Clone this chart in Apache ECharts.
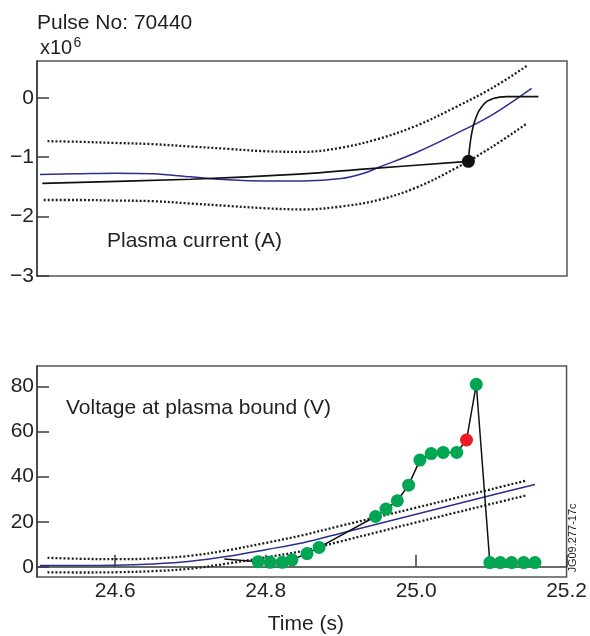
<!DOCTYPE html>
<html>
<head>
<meta charset="utf-8">
<title>Pulse No: 70440</title>
<script src="https://cdn.jsdelivr.net/npm/echarts@6/dist/echarts.min.js"></script>
<style>
  html, body { margin: 0; padding: 0; background: #fff; }
  #chart { width: 590px; height: 636px; }
</style>
</head>
<body>
<div id="chart"></div>
<script>
// ---- Plasma current, units of 10^6 A ----
// upper and lower bounds of the expected band (dotted)
const ipUpperTime = [24.51, 24.55, 24.60, 24.65, 24.70, 24.75, 24.80, 24.85, 24.90, 24.95, 25.00, 25.05, 25.10, 25.147];
const ipUpper     = [-0.73, -0.74, -0.76, -0.78, -0.82, -0.86, -0.90, -0.91, -0.84, -0.69, -0.47, -0.17, 0.16, 0.54];
const ipLowerTime = [24.505, 24.55, 24.60, 24.65, 24.70, 24.75, 24.80, 24.85, 24.90, 24.95, 25.00, 25.05, 25.10, 25.147];
const ipLower     = [-1.72, -1.72, -1.73, -1.74, -1.78, -1.82, -1.86, -1.88, -1.83, -1.72, -1.51, -1.20, -0.83, -0.43];
// reference trace (blue)
const ipRefTime = [24.50, 24.55, 24.60, 24.65, 24.70, 24.75, 24.80, 24.85, 24.90, 24.93, 24.95, 25.00, 25.05, 25.10, 25.153];
const ipRef     = [-1.29, -1.28, -1.27, -1.28, -1.33, -1.38, -1.40, -1.40, -1.36, -1.27, -1.17, -0.92, -0.62, -0.29, 0.16];
// measured trace (black); the alarm point is at ipAlarmIndex
const ipTime = [24.503, 24.70, 24.85, 24.93, 25.069, 25.0702, 25.0734, 25.0778, 25.0867, 25.1021, 25.120, 25.162];
const ipMeas = [-1.44, -1.37, -1.28, -1.20, -1.07, -0.89, -0.60, -0.38, -0.15, -0.01, 0.02, 0.02];
const ipAlarmIndex = 4;

// ---- Voltage at plasma boundary, V ----
const vUpperTime = [24.51, 24.55, 24.60, 24.65, 24.70, 24.75, 24.80, 24.85, 24.90, 24.95, 25.00, 25.05, 25.10, 25.147];
const vUpper     = [4.0, 3.6, 3.4, 3.7, 4.9, 7.4, 10.6, 14.1, 18.2, 22.2, 26.2, 30.3, 34.4, 38.3];
const vLowerTime = [24.51, 24.55, 24.60, 24.65, 24.70, 24.75, 24.80, 24.85, 24.90, 24.95, 25.00, 25.05, 25.10, 25.147];
const vLower     = [-2.4, -2.5, -2.4, -1.9, -0.8, 1.5, 4.2, 7.1, 11.3, 15.5, 19.7, 23.8, 27.9, 31.7];
const vRefTime = [24.50, 24.55, 24.60, 24.65, 24.70, 24.75, 24.80, 24.85, 24.90, 24.95, 25.00, 25.05, 25.10, 25.158];
const vRef     = [0.6, 0.6, 0.7, 1.3, 2.5, 4.7, 7.6, 10.7, 14.9, 19.1, 23.3, 27.5, 31.7, 36.5];
// measured samples; the first sample has no marker, the alarm sample is vAlarmIndex
const vTime = [24.745, 24.790, 24.806, 24.822, 24.835, 24.855, 24.871, 24.946, 24.960, 24.975, 24.990, 25.005, 25.020, 25.036, 25.054, 25.067, 25.080, 25.098, 25.112, 25.127, 25.143, 25.158];
const vMeas = [3.5, 2.3, 2.0, 2.0, 3.1, 5.9, 8.6, 22.3, 25.6, 29.3, 36.2, 47.3, 50.2, 50.7, 50.7, 56.2, 80.9, 1.9, 1.9, 1.9, 1.9, 1.9];
const vFirstMarker = 1;
const vAlarmIndex = 15;

// ---- axes ----
const timeMin = 24.496, timeMax = 25.2;
const timeTicks = [24.6, 24.8, 25.0, 25.2];
const ipMin = -3, ipMax = 0.62, ipStep = 1;
const vMin = -4.5, vMax = 89;
const vTicks = [0, 20, 40, 60, 80];

const FONT = '"Liberation Sans", Arial, Helvetica, sans-serif';
const INK = '#231f20';
const AXIS = '#3a3a3a';
const DOT = '#1e1e1e';
const BLUE = '#2b2f8f';
const GREEN = '#00a651';
const RED = '#ed1c24';

const pairs = (xs, ys) => xs.map((x, i) => [x, ys[i]]);
const signed = v => (v < 0 ? '\u2212' + Math.abs(v) : String(v));

const dottedStyle = { color: DOT, width: 2.3, type: [2, 2] };

function curve(name, xs, ys, grid, style) {
  return {
    name, type: 'line', xAxisIndex: grid, yAxisIndex: grid,
    data: pairs(xs, ys), showSymbol: false, symbol: 'none',
    smooth: 0.35,
    lineStyle: style, silent: true, z: 2
  };
}

const chart = echarts.init(document.getElementById('chart'), null, { renderer: 'canvas' });

const ipPairs = pairs(ipTime, ipMeas);
const vPairs = pairs(vTime, vMeas);
const greenDots = vPairs.filter((p, i) => i >= vFirstMarker && i !== vAlarmIndex);

const labelFont = { fontSize: 21, color: INK, fontFamily: FONT };

chart.setOption({
  animation: false,
  backgroundColor: '#fff',
  grid: [
    { left: 37, right: 23, top: 61, height: 215, show: true, borderColor: '#555', borderWidth: 1.5 },
    { left: 37, right: 23, top: 366, height: 215, show: true, borderColor: '#555', borderWidth: 1.5 }
  ],
  xAxis: [
    {
      gridIndex: 0, type: 'value', min: timeMin, max: timeMax,
      axisLine: { show: false }, axisTick: { show: false }, axisLabel: { show: false }, splitLine: { show: false }
    },
    {
      gridIndex: 1, type: 'value', min: timeMin, max: timeMax,
      axisLine: { show: true, lineStyle: { color: AXIS, width: 1.5 } },
      axisTick: { show: true, inside: true, length: 12, customValues: timeTicks, lineStyle: { color: AXIS, width: 1.5 } },
      axisLabel: Object.assign({ customValues: timeTicks, margin: 4, formatter: v => v.toFixed(1) }, labelFont),
      splitLine: { show: false },
      name: 'Time (s)', nameLocation: 'middle', nameGap: 37,
      nameTextStyle: { fontSize: 21, color: INK, fontFamily: FONT, padding: [0, 0, 0, 8] }
    }
  ],
  yAxis: [
    {
      gridIndex: 0, type: 'value', min: ipMin, max: ipMax, interval: ipStep,
      axisLine: { show: true, lineStyle: { color: AXIS, width: 1.5 } },
      axisTick: { show: true, inside: true, length: 12, lineStyle: { color: AXIS, width: 1.5 } },
      axisLabel: Object.assign({ margin: 3, formatter: signed, showMaxLabel: false }, labelFont),
      splitLine: { show: false }
    },
    {
      gridIndex: 1, type: 'value', min: vMin, max: vMax,
      axisLine: { show: true, lineStyle: { color: AXIS, width: 1.5 } },
      axisTick: { show: true, inside: true, length: 12, customValues: vTicks, lineStyle: { color: AXIS, width: 1.5 } },
      axisLabel: Object.assign({ customValues: vTicks, margin: 3 }, labelFont),
      splitLine: { show: false }
    }
  ],
  series: [
    // plasma current
    curve('Ip upper', ipUpperTime, ipUpper, 0, dottedStyle),
    curve('Ip lower', ipLowerTime, ipLower, 0, dottedStyle),
    curve('Ip reference', ipRefTime, ipRef, 0, { color: BLUE, width: 1.5 }),
    {
      name: 'Ip measured', type: 'line', xAxisIndex: 0, yAxisIndex: 0,
      data: ipPairs.slice(0, ipAlarmIndex + 1), showSymbol: false, symbol: 'none',
      smooth: 0.3, lineStyle: { color: '#111', width: 1.6 }, z: 3
    },
    {
      name: 'Ip measured (after alarm)', type: 'line', xAxisIndex: 0, yAxisIndex: 0,
      data: ipPairs.slice(ipAlarmIndex), showSymbol: false, symbol: 'none',
      smooth: 0.45, lineStyle: { color: '#111', width: 1.6 }, z: 3
    },
    {
      name: 'Ip alarm', type: 'scatter', xAxisIndex: 0, yAxisIndex: 0,
      data: [ipPairs[ipAlarmIndex]], symbolSize: 13, itemStyle: { color: '#111', opacity: 1 }, z: 5
    },
    // boundary voltage
    curve('V upper', vUpperTime, vUpper, 1, dottedStyle),
    curve('V lower', vLowerTime, vLower, 1, dottedStyle),
    curve('V reference', vRefTime, vRef, 1, { color: BLUE, width: 1.5 }),
    {
      name: 'V measured', type: 'line', xAxisIndex: 1, yAxisIndex: 1,
      data: vPairs, showSymbol: false, symbol: 'none',
      lineStyle: { color: '#111', width: 1.5 }, z: 3
    },
    {
      name: 'V samples', type: 'scatter', xAxisIndex: 1, yAxisIndex: 1,
      data: greenDots, symbolSize: 13, itemStyle: { color: GREEN, opacity: 1 }, z: 5
    },
    {
      name: 'V alarm', type: 'scatter', xAxisIndex: 1, yAxisIndex: 1,
      data: [vPairs[vAlarmIndex]], symbolSize: 13, itemStyle: { color: RED, opacity: 1 }, z: 6
    }
  ],
  graphic: [
    { type: 'text', x: 37, y: 23.5, style: { text: 'Pulse No: 70440', font: '21px ' + FONT, fill: INK, textAlign: 'left', textVerticalAlign: 'middle' } },
    { type: 'text', x: 40, y: 48.5, style: { text: 'x10', font: '20px ' + FONT, fill: INK, textAlign: 'left', textVerticalAlign: 'middle' } },
    { type: 'text', x: 73.5, y: 43, style: { text: '6', font: '14px ' + FONT, fill: INK, textAlign: 'left', textVerticalAlign: 'middle' } },
    { type: 'text', x: 107, y: 241, style: { text: 'Plasma current (A)', font: '21px ' + FONT, fill: INK, textAlign: 'left', textVerticalAlign: 'middle' } },
    { type: 'text', x: 66, y: 408, style: { text: 'Voltage at plasma bound (V)', font: '21px ' + FONT, fill: INK, textAlign: 'left', textVerticalAlign: 'middle' } },
    { type: 'text', x: 573, y: 538, rotation: Math.PI / 2, style: { text: 'JG09.277-17c', font: '11px ' + FONT, fill: INK, textAlign: 'center', textVerticalAlign: 'middle' } }
  ]
});
</script>
</body>
</html>
